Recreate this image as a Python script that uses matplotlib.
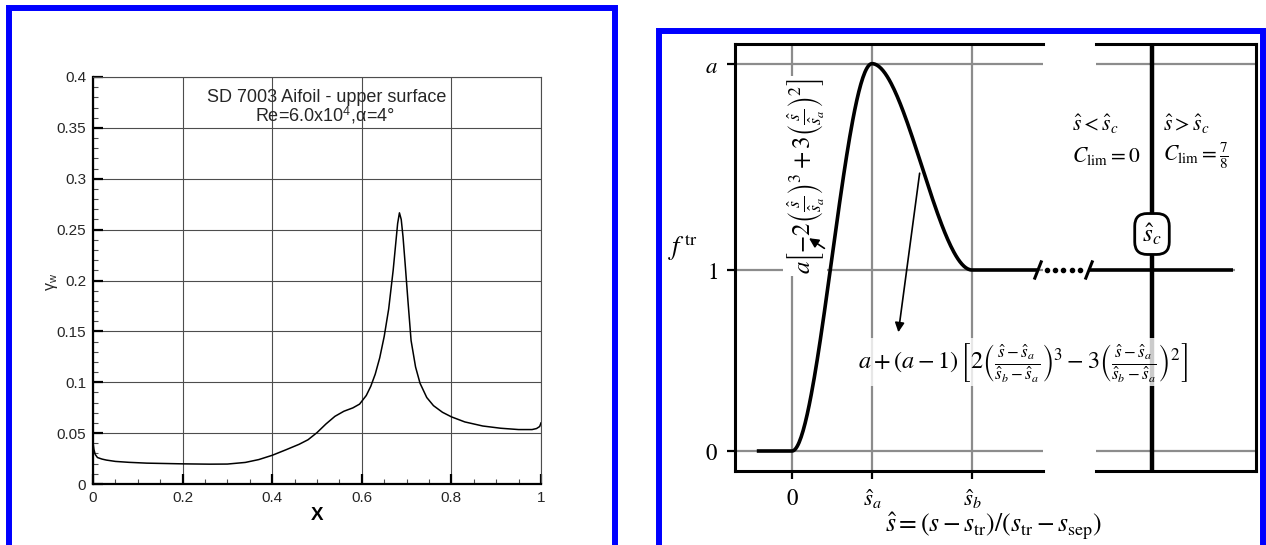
import numpy as np
import matplotlib.pyplot as plt
from matplotlib.patches import Rectangle

plt.rcParams['font.family'] = ['Liberation Sans', 'DejaVu Sans']
plt.rcParams['mathtext.fontset'] = 'stix'

# wall intermittency along the upper surface (x/c, gamma_w)
x_chord = [0.0, 0.002, 0.005, 0.01, 0.02, 0.03, 0.05, 0.08, 0.12, 0.2, 0.26, 0.3,
           0.34, 0.37, 0.4, 0.43, 0.46, 0.48, 0.5, 0.52, 0.54, 0.56, 0.58, 0.595,
           0.61, 0.62, 0.63, 0.64, 0.65, 0.66, 0.67, 0.675, 0.68, 0.684, 0.688,
           0.692, 0.697, 0.703, 0.71, 0.72, 0.73, 0.745, 0.76, 0.78, 0.8, 0.83,
           0.87, 0.91, 0.95, 0.98, 0.99, 0.997, 1.0]
gamma_w = [0.041, 0.034, 0.029, 0.026, 0.0245, 0.0235, 0.0222, 0.0213, 0.0205, 0.0198,
           0.0195, 0.0196, 0.0212, 0.024, 0.0282, 0.0335, 0.039, 0.0435, 0.0505, 0.059,
           0.0665, 0.0715, 0.0748, 0.0785, 0.087, 0.096, 0.108, 0.124, 0.145, 0.172,
           0.21, 0.233, 0.256, 0.2665, 0.26, 0.243, 0.215, 0.18, 0.141, 0.115, 0.099,
           0.085, 0.077, 0.0705, 0.066, 0.061, 0.057, 0.0548, 0.0535, 0.0535, 0.0545,
           0.0565, 0.06]
x_ticks = [0, 0.2, 0.4, 0.6, 0.8, 1.0]
x_ticklabels = ['0', '0.2', '0.4', '0.6', '0.8', '1']
y_ticks = [0, 0.05, 0.1, 0.15, 0.2, 0.25, 0.3, 0.35, 0.4]
y_ticklabels = ['0', '0.05', '0.1', '0.15', '0.2', '0.25', '0.3', '0.35', '0.4']

# transition function f_tr(s_hat)
s_a = 1.0
s_b = 2.25
a_peak = 2.14
s_c = 4.5
s_start = -0.44
s_cut = 3.075
s_resume = 3.7125
s_stop = 5.5125
break_dots = [3.19, 3.29, 3.39, 3.5, 3.6]

W, H = 1266, 545
fig = plt.figure(figsize=(W / 100, H / 100), dpi=100)


def fx(px):
    return px / W


def fy(py):
    return 1 - py / H


# ---------------- left: gamma_w along the chord ----------------
ax1 = fig.add_axes([fx(93), fy(484), 448 / W, 407 / H])
ax1.plot(x_chord, gamma_w, color='black', lw=1.1, zorder=3)
ax1.set_xlim(0, 1)
ax1.set_ylim(0, 0.4)
ax1.set_xticks(x_ticks, x_ticklabels)
ax1.set_yticks(y_ticks, y_ticklabels)
ax1.set_xticks(np.arange(0, 1.001, 0.05), minor=True)
ax1.set_yticks(np.arange(0, 0.4001, 0.01), minor=True)
ax1.tick_params(which='major', direction='in', length=7, width=1.6,
                labelsize=11, labelcolor='0.15', pad=5)
ax1.tick_params(which='minor', direction='in', length=3.5, width=0.8, color='0.3')
ax1.grid(True, which='major', color='0.3', lw=0.8)
for side in ['left', 'bottom']:
    ax1.spines[side].set_linewidth(1.6)
for side in ['top', 'right']:
    ax1.spines[side].set_color('0.3')
    ax1.spines[side].set_linewidth(0.8)

ax1.text(0.522, 0.3754, 'SD 7003 Aifoil - upper surface', ha='center', va='baseline',
         fontsize=13, color='0.15')
ax1.text(0.518, 0.3558, r'Re=6.0x10$^{\mathregular{4}}$,α=4°', ha='center', va='baseline',
         fontsize=13, color='0.15')
fig.text(fx(52), fy(282), r'$\mathregular{\gamma_w}$', rotation=90, ha='center', va='center',
         fontsize=11.5, color='0.15')
fig.text(fx(317), fy(515), 'X', ha='center', va='center', fontsize=13.5, fontweight='bold')

# ---------------- right: transition function, broken s axis ----------------
y_lo, y_hi = (451 - 470.7) / 181, (451 - 44) / 181
ax2 = fig.add_axes([fx(735), fy(470.7), (1043 - 735) / W, (470.7 - 44) / H])
ax3 = fig.add_axes([fx(1096), fy(470.7), (1256 - 1096) / W, (470.7 - 44) / H])
ax2.set_xlim((735 - 792) / 80, (1043 - 792) / 80)
ax3.set_xlim(3.8, 5.8)
for ax in (ax2, ax3):
    ax.set_ylim(y_lo, y_hi)
    ax.patch.set_visible(False)

t1 = np.linspace(0, 1, 80)
t2 = np.linspace(0, 1, 100)
s_curve = np.concatenate([[s_start], s_a * t1, s_a + (s_b - s_a) * t2, [s_cut]])
f_curve = np.concatenate([[0.0],
                          a_peak * (-2 * t1 ** 3 + 3 * t1 ** 2),
                          a_peak + (a_peak - 1) * (2 * t2 ** 3 - 3 * t2 ** 2),
                          [1.0]])

grey = '0.55'
for lev in (0, 1, a_peak):
    ax2.axhline(lev, color=grey, lw=1.6, zorder=1)
for sv in (0, s_a, s_b):
    ax2.axvline(sv, color=grey, lw=1.6, zorder=1)
ax3.axhline(0, color=grey, lw=1.6, zorder=1)
ax3.axhline(a_peak, color=grey, lw=1.6, zorder=1)
ax3.hlines(1, 3.8, s_stop + 0.03, color=grey, lw=1.6, zorder=1)
ax3.axvline(s_c, color='black', lw=3.2, zorder=2)

ax2.plot(s_curve, f_curve, color='black', lw=2.6, zorder=4, solid_capstyle='butt')
ax3.plot([s_resume, s_stop], [1, 1], color='black', lw=2.6, zorder=4,
         solid_capstyle='butt', clip_on=False)

# break marks between the two parts
for sb in (s_cut, s_resume):
    ax2.plot([sb - 0.04, sb + 0.04], [1 - 0.045, 1 + 0.045], color='black', lw=2.2,
             clip_on=False, zorder=4)
ax2.plot(break_dots, [1] * len(break_dots), 'o', color='black', ms=3, clip_on=False,
         zorder=4)

ax2.set_xticks([0, s_a, s_b], [r'$0$', r'$\hat{s}_a$', r'$\hat{s}_b$'])
ax2.set_yticks([0, 1, a_peak], [r'$0$', r'$1$', r'$a$'])
ax2.tick_params(direction='out', length=6, width=1.6, labelsize=16.5, pad=6)
ax3.set_xticks([])
ax3.set_yticks([])
ax2.spines['right'].set_visible(False)
ax3.spines['left'].set_visible(False)
for ax in (ax2, ax3):
    for sp in ax.spines.values():
        sp.set_linewidth(2.2)

ax2.text(fx(683), fy(248), r'$f^{\,\mathrm{tr}}$', transform=fig.transFigure,
         ha='center', va='center', fontsize=19)
ax2.text(fx(994), fy(526), r'$\hat{s} = (s - s_{\mathrm{tr}})/(s_{\mathrm{tr}} - s_{\mathrm{sep}})$',
         transform=fig.transFigure, ha='center', va='center', fontsize=18.5)

ax2.text(fx(805), fy(176),
         r'$a\left[-2\left(\frac{\hat{s}}{\hat{s}_a}\right)^3+3\left(\frac{\hat{s}}{\hat{s}_a}\right)^2\right]$',
         transform=fig.transFigure, rotation=90, ha='center', va='center', fontsize=18,
         zorder=3, bbox=dict(fc='white', ec='none', pad=1))
ax3.text(fx(1023), fy(362),
         r'$a+(a-1)\,\left[2\left(\frac{\hat{s}-\hat{s}_a}{\hat{s}_b-\hat{s}_a}\right)^3'
         r'-3\left(\frac{\hat{s}-\hat{s}_a}{\hat{s}_b-\hat{s}_a}\right)^2\right]$',
         transform=fig.transFigure, ha='center', va='center', fontsize=17.5, zorder=5,
         bbox=dict(fc='white', ec='none', pad=2, alpha=0.8))

ax2.annotate('', xy=(0.184, 1.184), xytext=(0.434, 1.111),
             arrowprops=dict(arrowstyle='-|>', color='black', lw=1.2, mutation_scale=14),
             zorder=5)
ax2.annotate('', xy=(1.325, 0.641), xytext=(1.6, 1.55),
             arrowprops=dict(arrowstyle='-|>', color='black', lw=1.2, mutation_scale=14),
             zorder=5)

ax3.text(fx(1072), fy(124), r'$\hat{s} < \hat{s}_c$', transform=fig.transFigure,
         ha='left', va='center', fontsize=15.5, zorder=5)
ax3.text(fx(1072), fy(156), r'$C_{\mathrm{lim}} = 0$', transform=fig.transFigure,
         ha='left', va='center', fontsize=15.5, zorder=5)
ax3.text(fx(1163), fy(124), r'$\hat{s} > \hat{s}_c$', transform=fig.transFigure,
         ha='left', va='center', fontsize=15.5, zorder=5)
ax3.text(fx(1163), fy(156), r'$C_{\mathrm{lim}} = \frac{7}{8}$', transform=fig.transFigure,
         ha='left', va='center', fontsize=15.5, zorder=5)
ax3.text(s_c, (451 - 234) / 181, r'$\hat{s}_c$', ha='center', va='center', fontsize=18,
         zorder=6, bbox=dict(boxstyle='round,pad=0.3,rounding_size=0.5', fc='white',
                             ec='black', lw=2))

# blue panel frames
for x0, x1, top in [(9, 615, 8), (659, 1263, 31)]:
    fig.add_artist(Rectangle((fx(x0), -0.1), fx(x1) - fx(x0), fy(top) + 0.1,
                             transform=fig.transFigure, fill=False, ec=(0, 0, 1), lw=4.3))

fig.savefig('out.png', dpi=100)
